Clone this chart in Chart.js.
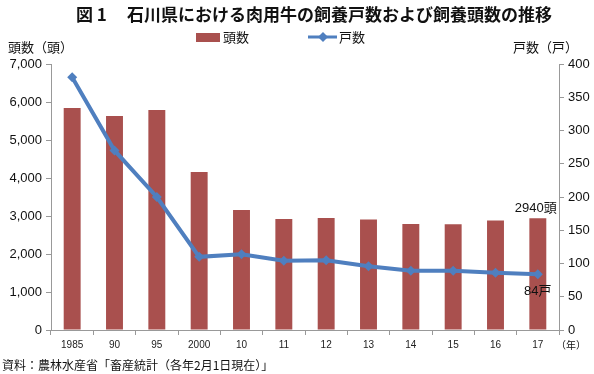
<!DOCTYPE html>
<html>
<head>
<meta charset="utf-8">
<script src="https://cdn.jsdelivr.net/npm/chart.js@4"></script>
<style>
  html, body { margin: 0; padding: 0; background: #fff; }
  #wrap { width: 594px; height: 374px; position: relative; }
</style>
</head>
<body>
<div id="wrap"><canvas id="chart" width="594" height="374"></canvas></div>
<script>
const years = ["1985", "90", "95", "2000", "10", "11", "12", "13", "14", "15", "16", "17"];
const headCount = [5840, 5630, 5790, 4160, 3160, 2920, 2950, 2910, 2790, 2780, 2880, 2940];
const farmCount = [380, 270, 200, 110, 114, 104, 105, 96, 89, 89, 86, 84];

const FONT = '"Liberation Sans", "Noto Sans CJK JP", sans-serif';
const JP = '"Noto Sans CJK JP", sans-serif';
const barColor = "#A9504E";
const lineColor = "#4F7FBF";

const textPlugin = {
  id: "texts",
  afterDraw(chart) {
    const ctx = chart.ctx;
    ctx.save();
    ctx.fillStyle = "#111";
    ctx.textBaseline = "middle";

    ctx.font = "bold 17px " + JP;
    ctx.textAlign = "left";
    ctx.fillText("図 1", 76, 15);
    ctx.fillText("石川県における肉用牛の飼養戸数および飼養頭数の推移", 127, 15);

    // legend
    ctx.fillStyle = barColor;
    ctx.fillRect(196, 33, 24, 9);
    ctx.fillStyle = "#111";
    ctx.font = "13px " + JP;
    ctx.fillText("頭数", 223, 37);
    ctx.strokeStyle = lineColor;
    ctx.lineWidth = 3;
    ctx.beginPath();
    ctx.moveTo(308, 37);
    ctx.lineTo(337, 37);
    ctx.stroke();
    ctx.fillStyle = lineColor;
    ctx.beginPath();
    ctx.moveTo(323, 32);
    ctx.lineTo(328, 37);
    ctx.lineTo(323, 42);
    ctx.lineTo(318, 37);
    ctx.closePath();
    ctx.fill();
    ctx.fillStyle = "#111";
    ctx.fillText("戸数", 339, 37);

    // axis titles
    ctx.font = "13px " + JP;
    ctx.fillText("頭数（頭）", 8, 47);
    ctx.fillText("戸数（戸）", 513, 47);

    ctx.font = "10px " + JP;
    ctx.fillText("（年）", 556, 345);

    ctx.font = "12px " + JP;
    ctx.fillText("資料：農林水産省「畜産統計（各年2月1日現在）」", 2, 365);

    // end labels
    const x = chart.scales.x;
    const y = chart.scales.y;
    const y1 = chart.scales.y1;
    const last = years.length - 1;
    const lx = x.getPixelForValue(last);
    ctx.font = "13px " + FONT;
    ctx.textAlign = "center";
    ctx.fillText(headCount[last] + "頭", lx - 2, y.getPixelForValue(headCount[last]) - 10);
    ctx.fillText(farmCount[last] + "戸", lx, y1.getPixelForValue(farmCount[last]) + 17);
    ctx.restore();
  }
};

new Chart(document.getElementById("chart"), {
  type: "bar",
  data: {
    labels: years,
    datasets: [
      {
        type: "line",
        label: "戸数",
        data: farmCount,
        yAxisID: "y1",
        borderColor: lineColor,
        backgroundColor: lineColor,
        borderWidth: 4,
        tension: 0,
        pointStyle: "rectRot",
        pointRadius: 5,
        pointBorderWidth: 0,
        order: 0
      },
      {
        label: "頭数",
        data: headCount,
        yAxisID: "y",
        backgroundColor: barColor,
        barPercentage: 0.4,
        categoryPercentage: 1,
        order: 1
      }
    ]
  },
  options: {
    responsive: false,
    animation: false,
    devicePixelRatio: 1,
    layout: { padding: { top: 64, left: 0, right: 0, bottom: 0 } },
    plugins: {
      legend: { display: false },
      tooltip: { enabled: false }
    },
    scales: {
      x: {
        grid: { display: true, drawOnChartArea: false, color: "#999", tickLength: 5, offset: true },
        border: { color: "#999" },
        ticks: { color: "#222", font: { family: FONT, size: 10 }, padding: 4, maxRotation: 0, autoSkip: false },
        afterFit(scale) { scale.height = 44; }
      },
      y: {
        position: "left",
        min: 0,
        max: 7000,
        ticks: {
          stepSize: 1000,
          color: "#111",
          font: { family: FONT, size: 13 },
          padding: 4,
          callback: v => v.toLocaleString("en-US")
        },
        grid: { drawOnChartArea: false, color: "#999", tickLength: 5 },
        border: { color: "#999" },
        afterFit(scale) { scale.width = 51; }
      },
      y1: {
        position: "right",
        min: 0,
        max: 400,
        ticks: { stepSize: 50, color: "#111", font: { family: FONT, size: 13 }, padding: 4 },
        grid: { drawOnChartArea: false, color: "#999", tickLength: 5 },
        border: { color: "#999" },
        afterFit(scale) { scale.width = 35; }
      }
    }
  },
  plugins: [textPlugin]
});
</script>
</body>
</html>
